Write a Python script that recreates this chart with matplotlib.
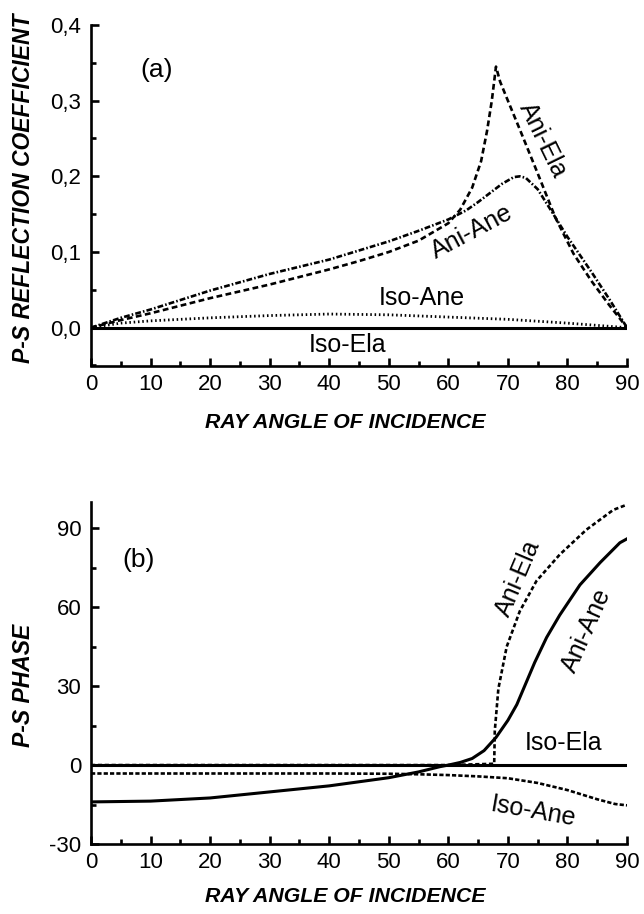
import matplotlib
matplotlib.use("Agg")
import matplotlib.pyplot as plt
from matplotlib.ticker import MultipleLocator, FuncFormatter

plt.rcParams['font.family'] = ['Liberation Sans', 'DejaVu Sans']
plt.rcParams['axes.unicode_minus'] = False

# ---------------- Panel (a): P-S reflection coefficient ----------------
a_iso_ela_x = [0, 90]
a_iso_ela_y = [0.0, 0.0]

a_iso_ane_x = [0, 5, 10, 20, 30, 40, 50, 60, 70, 80, 85, 90]
a_iso_ane_y = [0.0, 0.006, 0.009, 0.013, 0.016, 0.018, 0.017, 0.014, 0.011, 0.006, 0.003, 0.0]

a_ani_ela_x = [0, 5, 10, 20, 30, 40, 45, 50, 55, 60, 62, 64, 65.5, 66.5, 67.3, 68.0,
               68.7, 70, 72, 75, 78, 81, 84, 87, 90]
a_ani_ela_y = [0.0, 0.010, 0.019, 0.039, 0.057, 0.077, 0.088, 0.100, 0.115, 0.138, 0.156,
               0.185, 0.220, 0.260, 0.300, 0.345, 0.325, 0.300, 0.262, 0.204, 0.145,
               0.098, 0.062, 0.030, 0.0]

a_ani_ane_x = [0, 5, 10, 20, 30, 40, 50, 55, 60, 63, 65, 67, 69, 71, 72, 73, 75, 77,
               80, 84, 87, 90]
a_ani_ane_y = [0.0, 0.013, 0.024, 0.049, 0.071, 0.090, 0.114, 0.128, 0.143, 0.155, 0.166,
               0.178, 0.190, 0.199, 0.200, 0.198, 0.183, 0.158, 0.120, 0.074, 0.038, 0.0]

# ---------------- Panel (b): P-S phase ----------------
b_iso_ela_x = [0, 90]
b_iso_ela_y = [0.0, 0.0]

b_iso_ane_x = [0, 10, 20, 30, 40, 50, 55, 60, 65, 70, 75, 80, 85, 88, 90]
b_iso_ane_y = [-3.2, -3.2, -3.2, -3.2, -3.2, -3.3, -3.5, -3.8, -4.3, -5.0, -6.8, -9.5,
               -13.0, -14.8, -15.3]

b_ani_ela_x = [0, 20, 40, 60, 67.7, 67.8, 68.4, 69.8, 72.0, 74.8, 78.7, 83.2, 87.7, 90]
b_ani_ela_y = [0, 0, 0, 0, 0.5, 13, 29, 45, 58.5, 70, 80, 89.5, 97, 99]

b_ani_ane_x = [0, 10, 20, 30, 40, 50, 55, 58.6, 60, 62, 64, 66, 68, 70, 71.5, 73,
               74.5, 76.5, 78.7, 82.1, 85.5, 88.8, 90]
b_ani_ane_y = [-14, -13.7, -12.5, -10.2, -7.9, -4.8, -2.6, -0.6, 0, 1.0, 2.5, 5.5, 10.5,
               17, 23, 31, 39, 48.5, 57, 68.5, 77, 84.5, 86]

xticks = [0, 10, 20, 30, 40, 50, 60, 70, 80, 90]

W, H = 644, 914
fig = plt.figure(figsize=(W / 100, H / 100), dpi=100)

def ax_rect(l, t, r, b):
    return [l / W, 1 - b / H, (r - l) / W, (b - t) / H]

ax1 = fig.add_axes(ax_rect(91, 25, 627, 365.5))
ax2 = fig.add_axes(ax_rect(91, 502, 627, 844))

lw = 1.9
for ax in (ax1, ax2):
    for s in ('top', 'right'):
        ax.spines[s].set_visible(False)
    for s in ('left', 'bottom'):
        ax.spines[s].set_linewidth(1.9)
    ax.set_xlim(0, 90)
    ax.set_xticks(xticks)
    ax.xaxis.set_minor_locator(MultipleLocator(5))
    ax.tick_params(which='major', direction='in', length=6, width=1.9, labelsize=16, pad=6)
    ax.tick_params(which='minor', direction='in', length=3.5, width=1.9)
    ax.tick_params(axis='y', which='major', pad=7)

# Panel (a)
ax1.set_ylim(-0.05, 0.4)
ax1.yaxis.set_major_locator(MultipleLocator(0.1))
ax1.yaxis.set_minor_locator(MultipleLocator(0.05))
ax1.yaxis.set_major_formatter(FuncFormatter(lambda v, p: ("%.1f" % v).replace('.', ',').replace('-0,0', '0,0')))

ax1.plot(a_iso_ela_x, a_iso_ela_y, color='black', lw=2.2, solid_capstyle='butt')
ax1.plot(a_iso_ane_x, a_iso_ane_y, color='black', lw=2.0, linestyle=(0, (0.55, 1.0)))
ax1.plot(a_ani_ela_x, a_ani_ela_y, color='black', lw=lw, linestyle=(0, (2.2, 1.3)))
ax1.plot(a_ani_ane_x, a_ani_ane_y, color='black', lw=lw, linestyle=(0, (2.2, 0.8, 0.6, 0.8)))

ax1.text(11.0, 0.34, '(a)', fontsize=19, ha='center', va='center')
ax1.text(75.9, 0.248, 'Ani-Ela', fontsize=18, ha='center', va='center', rotation=-64)
ax1.text(63.9, 0.127, 'Ani-Ane', fontsize=18, ha='center', va='center', rotation=28)
ax1.text(55.5, 0.039, 'Iso-Ane', fontsize=18, ha='center', va='center')
ax1.text(43.0, -0.023, 'Iso-Ela', fontsize=18, ha='center', va='center')

# Panel (b)
ax2.set_ylim(-30, 100)
ax2.set_yticks([-30, 0, 30, 60, 90])
ax2.yaxis.set_minor_locator(MultipleLocator(15))

ax2.plot(b_iso_ela_x, b_iso_ela_y, color='black', lw=2.2)
ax2.plot(b_iso_ane_x, b_iso_ane_y, color='black', lw=lw, linestyle=(0, (1.6, 0.8)))
ax2.plot(b_ani_ela_x, b_ani_ela_y, color='black', lw=lw, linestyle=(0, (1.6, 1.0)))
ax2.plot(b_ani_ane_x, b_ani_ane_y, color='black', lw=2.2)

ax2.text(8.0, 78, '(b)', fontsize=19, ha='center', va='center')
ax2.text(71.8, 71, 'Ani-Ela', fontsize=18, ha='center', va='center', rotation=67)
ax2.text(83.3, 51, 'Ani-Ane', fontsize=18, ha='center', va='center', rotation=66)
ax2.text(79.4, 8.3, 'Iso-Ela', fontsize=18, ha='center', va='center')
ax2.text(74.3, -17.8, 'Iso-Ane', fontsize=18, ha='center', va='center', rotation=-10)

# Axis titles
lab = dict(fontweight='bold', fontstyle='italic', ha='center', va='center')
fig.text(24 / W, 1 - 188 / H, 'P-S REFLECTION COEFFICIENT', rotation=90, fontsize=16.5, **lab)
fig.text(345 / W, 1 - 422 / H, 'RAY ANGLE OF INCIDENCE', fontsize=15.3, **lab)
fig.text(24 / W, 1 - 685 / H, 'P-S PHASE', rotation=90, fontsize=16.5, **lab)
fig.text(345 / W, 1 - 897 / H, 'RAY ANGLE OF INCIDENCE', fontsize=15.3, **lab)

fig.savefig('out.png', dpi=100)
